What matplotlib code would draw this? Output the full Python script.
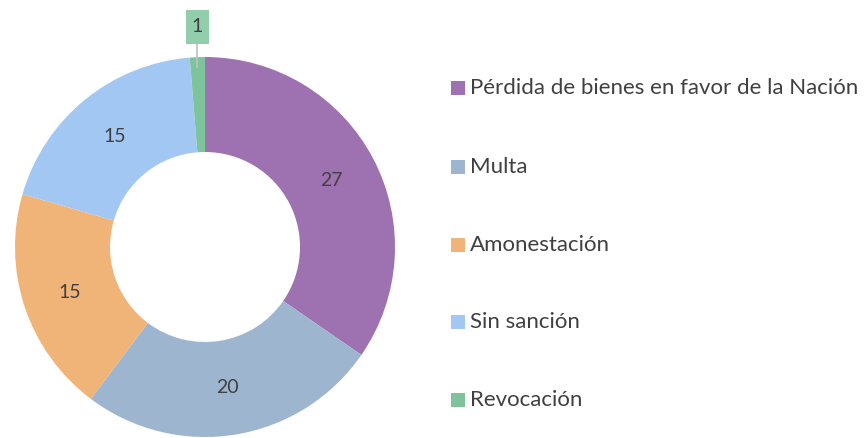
import matplotlib
matplotlib.use("Agg")
import matplotlib.pyplot as plt
import numpy as np

categories = [
    "Pérdida de bienes en favor de la Nación",
    "Multa",
    "Amonestación",
    "Sin sanción",
    "Revocación",
]
values = [27, 20, 15, 15, 1]
colors = ["#9E72B1", "#9EB5CF", "#F0B478", "#A2C7F2", "#7DC49C"]

plt.rcParams["font.family"] = ["Lato", "DejaVu Sans"]
TEXT = "#404040"

fig = plt.figure(figsize=(8.67, 4.38), dpi=100)
ax = fig.add_axes([15 / 867, 1 / 438, 380 / 867, 380 / 438])

wedges, _ = ax.pie(
    values,
    colors=colors,
    startangle=90,
    counterclock=False,
    radius=1.0,
    wedgeprops=dict(width=0.5, linewidth=0),
)
ax.set_xlim(-1, 1)
ax.set_ylim(-1, 1)
ax.set_aspect("equal")
ax.axis("off")

# value labels in the middle of the ring; the tiny slice gets a callout box
for w, v in zip(wedges, values):
    ang = np.deg2rad((w.theta1 + w.theta2) / 2)
    if v == 1:
        x = np.cos(ang)
        ax.plot([x, x], [np.sin(ang) - 0.05, 1.07], color="#BFBFBF",
                lw=1.2, clip_on=False, zorder=3)
        bw, bh, by = 0.121, 0.179, 1.158
        ax.add_patch(plt.Rectangle((x - bw / 2, by - bh / 2), bw, bh,
                                   fc="#93CEAC", ec="none", clip_on=False,
                                   zorder=4))
        ax.text(x, by, str(v), ha="center", va="center", fontsize=14,
                color=TEXT, clip_on=False, zorder=5)
        continue
    ax.text(0.75 * np.cos(ang), 0.75 * np.sin(ang), str(v), ha="center",
            va="center", fontsize=14, color=TEXT)

# legend
ys = [88, 167, 245, 322, 400]
for name, col, y in zip(categories, colors, ys):
    yf = 1 - y / 438
    fig.patches.append(plt.Rectangle((451 / 867, yf - 7 / 438), 14 / 867,
                                     14 / 438, transform=fig.transFigure,
                                     fc=col, ec="none"))
    fig.text(470 / 867, yf, name, ha="left", va="center", fontsize=16,
             color=TEXT)

fig.savefig("out.png", dpi=100)
